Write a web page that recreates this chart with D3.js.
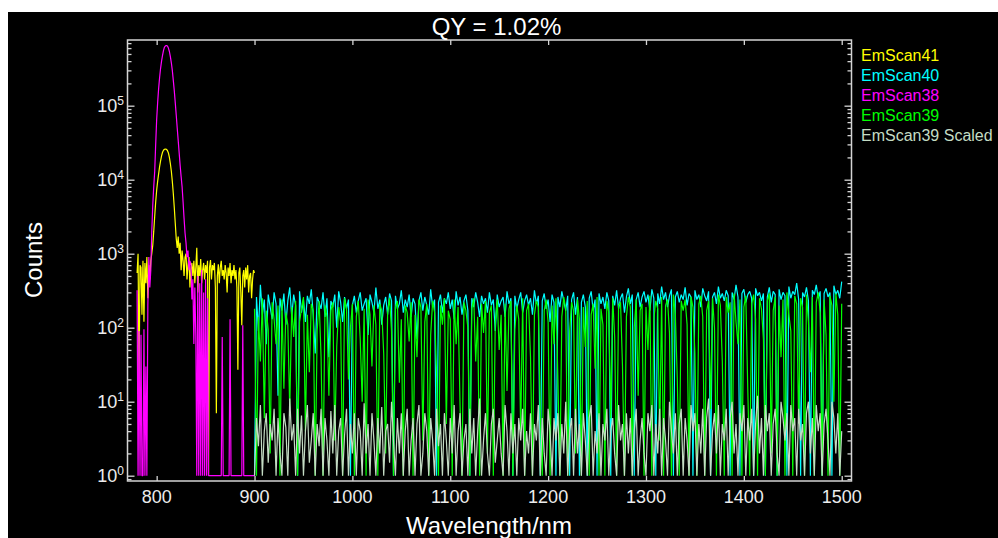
<!DOCTYPE html>
<html>
<head>
<meta charset="utf-8">
<script src="https://cdn.jsdelivr.net/npm/d3@7"></script>
<style>
  body { margin: 0; background: #fff; }
  svg { display: block; font-family: "Liberation Sans", Arial, sans-serif; }
</style>
</head>
<body>
<svg id="chart" width="998" height="538"></svg>
<script>
// ---- data ----
// short scans, 780..900 nm, 1 nm step
const wlShort = d3.range(780, 901, 1);
const emScan41 = [
  550, 1000, 20, 700, 650, 150, 800, 120, 750, 400, 900, 250, 700, 450, 800, 1000,
  1300, 2000, 3200, 5000, 7200, 9500, 12000, 15000, 18000, 21000, 23500, 25000, 25800, 26000,
  25700, 24800, 23000, 20000, 16500, 13000, 9500, 6500, 4200, 2600, 1600, 1200, 1700, 1000,
  1400, 600, 1100, 800, 500, 900, 1000, 450, 700, 900, 350, 600, 750, 500, 800, 400,
  650, 1200, 300, 700, 500, 850, 400, 600, 750, 450, 700, 550, 800, 1, 650, 820,
  450, 700, 600, 750, 350, 7, 500, 720, 400, 650, 800, 500, 600, 450, 700, 550,
  300, 650, 500, 750, 400, 600, 500, 700, 450, 600, 350, 27, 550, 650, 300, 108,
  500, 600, 350, 650, 450, 700, 300, 500, 550, 250, 450, 600, 550
];
const emScan38 = [
  320, 1, 90, 1, 80, 1, 1, 95, 1, 30, 1, 200, 900, 350, 600,
  2000, 4500, 8000, 13000, 30000, 65000, 110000, 170000, 240000, 320000, 400000, 480000, 560000, 620000, 645000,
  650000, 640000, 600000, 540000, 460000, 380000, 300000, 220000, 160000, 110000, 75000, 50000, 34000, 23000,
  15500, 11000, 8000, 5000, 3000, 1900, 1400, 900, 1100, 600, 800, 700, 240, 450, 60, 350,
  80, 1, 500, 1, 400, 1, 600, 1, 300, 1, 450, 1, 250, 1, 1, 1,
  1, 1, 1, 1, 1, 1, 1, 1, 1, 1, 1, 75, 1, 1, 1, 1,
  1, 1, 1, 130, 1, 1, 1, 1, 1, 1, 1, 1, 1, 1, 1, 1,
  108, 1, 1, 1, 1, 1, 1, 1, 1, 1, 1, 1, 1
];

// long scans, 900..1500 nm, 2 nm step
const wlLong = d3.range(900, 1501, 2);
const emScan40 = [
  1, 260, 90, 380, 150, 240, 60, 280, 190, 130, 300, 210, 12, 250, 170, 290, 110, 230, 350, 140,
  280, 200, 1, 310, 160, 240, 120, 270, 210, 330, 150, 45, 260, 220, 180, 300, 140, 250, 40, 230,
  190, 280, 100, 310, 220, 120, 260, 180, 240, 1, 200, 270, 160, 230, 300, 170, 210, 250, 80, 280,
  220, 160, 350, 180, 240, 110, 200, 260, 150, 290, 230, 1, 270, 180, 210, 320, 160, 240, 190, 280,
  140, 250, 210, 70, 230, 300, 170, 260, 200, 150, 330, 190, 240, 1, 220, 280, 160, 250, 210, 300,
  180, 240, 130, 310, 200, 260, 150, 230, 280, 170, 1, 250, 190, 300, 220, 140, 270, 210, 250, 160,
  300, 200, 240, 90, 280, 190, 230, 260, 140, 310, 210, 250, 1, 270, 180, 240, 300, 160, 230, 280,
  200, 250, 150, 320, 210, 270, 1, 230, 290, 180, 240, 120, 280, 220, 1, 260, 190, 310, 230, 170,
  270, 1, 240, 300, 150, 260, 1, 220, 280, 190, 1, 250, 310, 170, 240, 1, 290, 210, 260, 180,
  300, 230, 1, 270, 200, 320, 180, 250, 290, 160, 260, 340, 210, 280, 1, 240, 300, 190, 260, 310,
  220, 280, 170, 330, 250, 1, 290, 210, 360, 240, 300, 190, 270, 330, 1, 260, 310, 220, 280, 240,
  350, 200, 290, 260, 1, 320, 240, 280, 190, 340, 270, 230, 310, 1, 260, 300, 210, 360, 250, 290,
  230, 320, 270, 1, 300, 240, 380, 260, 1, 290, 330, 220, 280, 310, 250, 1, 340, 270, 300, 230,
  290, 1, 260, 350, 220, 310, 280, 1, 330, 240, 300, 270, 1, 360, 250, 310, 280, 400, 240, 1,
  300, 260, 350, 230, 1, 320, 280, 380, 250, 310, 1, 290, 340, 260, 300, 1, 370, 280, 320, 250,
  420
];
const emScan39 = [
  180, 1, 140, 35, 250, 6, 170, 95, 2, 220, 130, 60, 200, 1, 240, 15, 160, 110, 8, 190,
  75, 230, 1, 120, 180, 260, 4, 150, 25, 210, 170, 1, 90, 230, 40, 1, 200, 140, 12, 170,
  220, 3, 55, 190, 120, 1, 250, 180, 20, 100, 210, 1, 140, 230, 70, 10, 180, 1, 240, 150,
  30, 200, 110, 1, 210, 170, 45, 2, 160, 250, 90, 1, 190, 230, 18, 130, 1, 200, 160, 65,
  220, 1, 150, 40, 240, 190, 3, 120, 210, 1, 80, 230, 160, 25, 1, 200, 110, 250, 5, 170,
  130, 1, 240, 60, 190, 9, 1, 220, 170, 100, 1, 180, 250, 35, 140, 1, 210, 85, 230, 2,
  160, 200, 1, 120, 240, 50, 150, 1, 210, 14, 180, 230, 1, 95, 200, 130, 4, 250, 1, 170,
  210, 40, 1, 150, 230, 190, 7, 1, 170, 240, 120, 1, 200, 60, 250, 20, 1, 140, 260, 180,
  1, 90, 220, 170, 2, 240, 130, 1, 190, 55, 230, 1, 150, 210, 28, 260, 1, 180, 110, 1,
  230, 160, 6, 250, 75, 1, 200, 220, 30, 1, 140, 260, 190, 1, 100, 240, 12, 170, 210, 1,
  190, 50, 270, 1, 130, 230, 180, 3, 260, 1, 200, 240, 85, 1, 280, 150, 20, 1, 230, 170,
  240, 110, 1, 260, 190, 45, 1, 210, 270, 140, 1, 170, 230, 8, 250, 100, 1, 280, 200, 35,
  1, 260, 160, 220, 1, 290, 120, 60, 240, 1, 190, 270, 15, 1, 210, 280, 130, 1, 250, 180,
  70, 1, 230, 290, 2, 170, 260, 1, 200, 40, 240, 1, 300, 150, 90, 1, 270, 210, 5, 250,
  190, 1, 280, 120, 25, 260, 1, 220, 300, 160, 1, 240, 80, 1, 270, 200, 10, 290, 150, 1,
  210
];
const emScan39Scaled = [
  1, 6, 2.5, 9, 1, 4, 7, 1.5, 5, 3, 8, 1, 6, 2, 1, 7, 4.5, 1, 11, 3,
  5, 1, 8, 2, 6.5, 1, 4, 9, 1.5, 3, 7, 1, 5, 2.5, 8, 1, 6, 3, 1, 7.5,
  2, 9, 1, 4, 6, 1, 3.5, 8, 1, 5, 2, 7, 1, 6, 4, 1, 9.5, 2, 5, 1,
  7, 3, 1, 6, 2, 8.5, 1, 4, 5, 1.5, 10, 3, 1, 6, 2, 7, 1, 4, 8, 1,
  3, 6, 1, 5, 9, 1, 2, 7, 4, 1, 6, 3, 1, 8, 2.5, 5, 1, 7, 3, 1,
  6, 2, 9, 1, 4, 7, 1, 3, 5, 1, 8, 2, 6, 1, 4, 11, 1, 3, 7, 2,
  1, 5, 8, 1.5, 3, 6, 2, 1, 9, 4, 1, 7, 2, 5, 1, 6, 3, 8, 1, 4,
  2, 7, 1, 5, 3, 9, 1, 6, 2, 1, 8, 4, 1, 6, 3, 7, 1, 5, 2, 10,
  1, 4, 6, 1, 8, 2, 5, 1, 7, 3, 1, 6, 9, 1, 4, 2, 7, 1, 5, 3,
  8, 1, 4, 6, 2, 1, 9, 3, 5, 1, 7, 2, 6, 1, 4, 8, 1, 3, 6, 2,
  1, 7, 4, 9, 1, 5, 2, 8, 1, 6, 3, 1, 10, 4, 2, 7, 1, 5, 8, 1,
  6, 3, 1, 9, 4, 7, 1, 5, 2, 8, 1, 6, 11, 1, 4, 7, 2, 9, 1, 5,
  3, 8, 1, 6, 10, 2, 5, 1, 7, 4, 9, 1, 6, 3, 8, 1, 5, 12, 2, 6,
  1, 9, 4, 7, 1, 5, 8, 2, 1, 10, 6, 3, 7, 1, 9, 4, 6, 1, 8, 3,
  5, 1, 7, 10, 2, 6, 1, 9, 4, 7, 1, 5, 8, 3, 1, 10, 6, 2, 7, 1,
  4
];

const xTicks = [800, 900, 1000, 1100, 1200, 1300, 1400, 1500];
const yMajor = [1, 10, 100, 1000, 10000, 100000];

// legend / draw order
const series = [
  { name: "EmScan41", wl: wlShort, values: emScan41, color: "#ffff00" },
  { name: "EmScan40", wl: wlLong, values: emScan40, color: "#00ffff" },
  { name: "EmScan38", wl: wlShort, values: emScan38, color: "#ff00ff" },
  { name: "EmScan39", wl: wlLong, values: emScan39, color: "#00ff00" },
  { name: "EmScan39 Scaled", wl: wlLong, values: emScan39Scaled, color: "#c4dcc4" }
];

// ---- layout ----
const margin = { top: 40, left: 127.5, right: 851.5, bottom: 481 };
const axisColor = "#d4d4d4";
const textColor = "#ececec";

const svg = d3.select("#chart");

// black panel
svg.append("rect")
  .attr("x", 8).attr("y", 12)
  .attr("width", 990).attr("height", 526)
  .attr("fill", "#000");

// scales
const x = d3.scaleLinear().domain([770.2, 1510]).range([margin.left, margin.right]);
const y = d3.scaleLog().domain([0.848, 772000]).range([margin.bottom, margin.top]);

svg.append("clipPath").attr("id", "plotclip")
  .append("rect")
  .attr("x", margin.left).attr("y", margin.top)
  .attr("width", margin.right - margin.left)
  .attr("height", margin.bottom - margin.top);

// lines
const line = d3.line()
  .x((d) => x(d[0]))
  .y((d) => y(Math.max(1, d[1])));

const gLines = svg.append("g").attr("clip-path", "url(#plotclip)");
series.forEach((s) => {
  gLines.append("path")
    .datum(s.wl.map((w, i) => [w, s.values[i]]))
    .attr("d", line)
    .attr("fill", "none")
    .attr("stroke", s.color)
    .attr("stroke-width", 1.2)
    .attr("stroke-linejoin", "bevel");
});

// axes (inward ticks, mirrored)
const yMinor = y.ticks().filter((v) => !yMajor.includes(v));

function styleAxis(g) {
  g.select(".domain").remove();
  g.selectAll("line").attr("stroke", axisColor).attr("stroke-width", 1.3);
  g.selectAll("text").remove();
}

svg.append("g").attr("transform", `translate(0,${margin.bottom})`)
  .call(d3.axisBottom(x).tickValues(xTicks).tickSize(-5)).call(styleAxis);
svg.append("g").attr("transform", `translate(0,${margin.top})`)
  .call(d3.axisTop(x).tickValues(xTicks).tickSize(-5)).call(styleAxis);

svg.append("g").attr("transform", `translate(${margin.left},0)`)
  .call(d3.axisLeft(y).tickValues(yMajor).tickSize(-7)).call(styleAxis);
svg.append("g").attr("transform", `translate(${margin.left},0)`)
  .call(d3.axisLeft(y).tickValues(yMinor).tickSize(-4)).call(styleAxis);
svg.append("g").attr("transform", `translate(${margin.right},0)`)
  .call(d3.axisRight(y).tickValues(yMajor).tickSize(-7)).call(styleAxis);
svg.append("g").attr("transform", `translate(${margin.right},0)`)
  .call(d3.axisRight(y).tickValues(yMinor).tickSize(-4)).call(styleAxis);

// frame
svg.append("rect")
  .attr("x", margin.left).attr("y", margin.top)
  .attr("width", margin.right - margin.left)
  .attr("height", margin.bottom - margin.top)
  .attr("fill", "none")
  .attr("stroke", axisColor)
  .attr("stroke-width", 1.5);

// tick labels
svg.append("g").selectAll("text")
  .data(xTicks)
  .join("text")
  .attr("x", (d) => x(d))
  .attr("y", 503)
  .attr("text-anchor", "middle")
  .attr("font-size", 18)
  .attr("fill", textColor)
  .text((d) => d);

const yLab = svg.append("g").selectAll("text")
  .data(yMajor)
  .join("text")
  .attr("x", 124)
  .attr("y", (d) => y(d) + 6)
  .attr("text-anchor", "end")
  .attr("font-size", 18)
  .attr("fill", textColor);
yLab.append("tspan").text("10");
yLab.append("tspan")
  .attr("font-size", 12)
  .attr("dy", -7)
  .text((d) => Math.round(Math.log10(d)));

// titles
svg.append("text")
  .attr("x", 496.5).attr("y", 35)
  .attr("text-anchor", "middle")
  .attr("font-size", 24)
  .attr("fill", "#fff")
  .text("QY = 1.02%");

svg.append("text")
  .attr("x", 489).attr("y", 534)
  .attr("text-anchor", "middle")
  .attr("font-size", 24)
  .attr("fill", "#fff")
  .text("Wavelength/nm");

svg.append("text")
  .attr("transform", "translate(42,260) rotate(-90)")
  .attr("text-anchor", "middle")
  .attr("font-size", 24)
  .attr("fill", "#fff")
  .text("Counts");

// legend
svg.append("g").selectAll("text")
  .data(series)
  .join("text")
  .attr("x", 861)
  .attr("y", (d, i) => 61 + i * 20)
  .attr("font-size", 16)
  .attr("fill", (d) => d.color)
  .text((d) => d.name);
</script>
</body>
</html>
